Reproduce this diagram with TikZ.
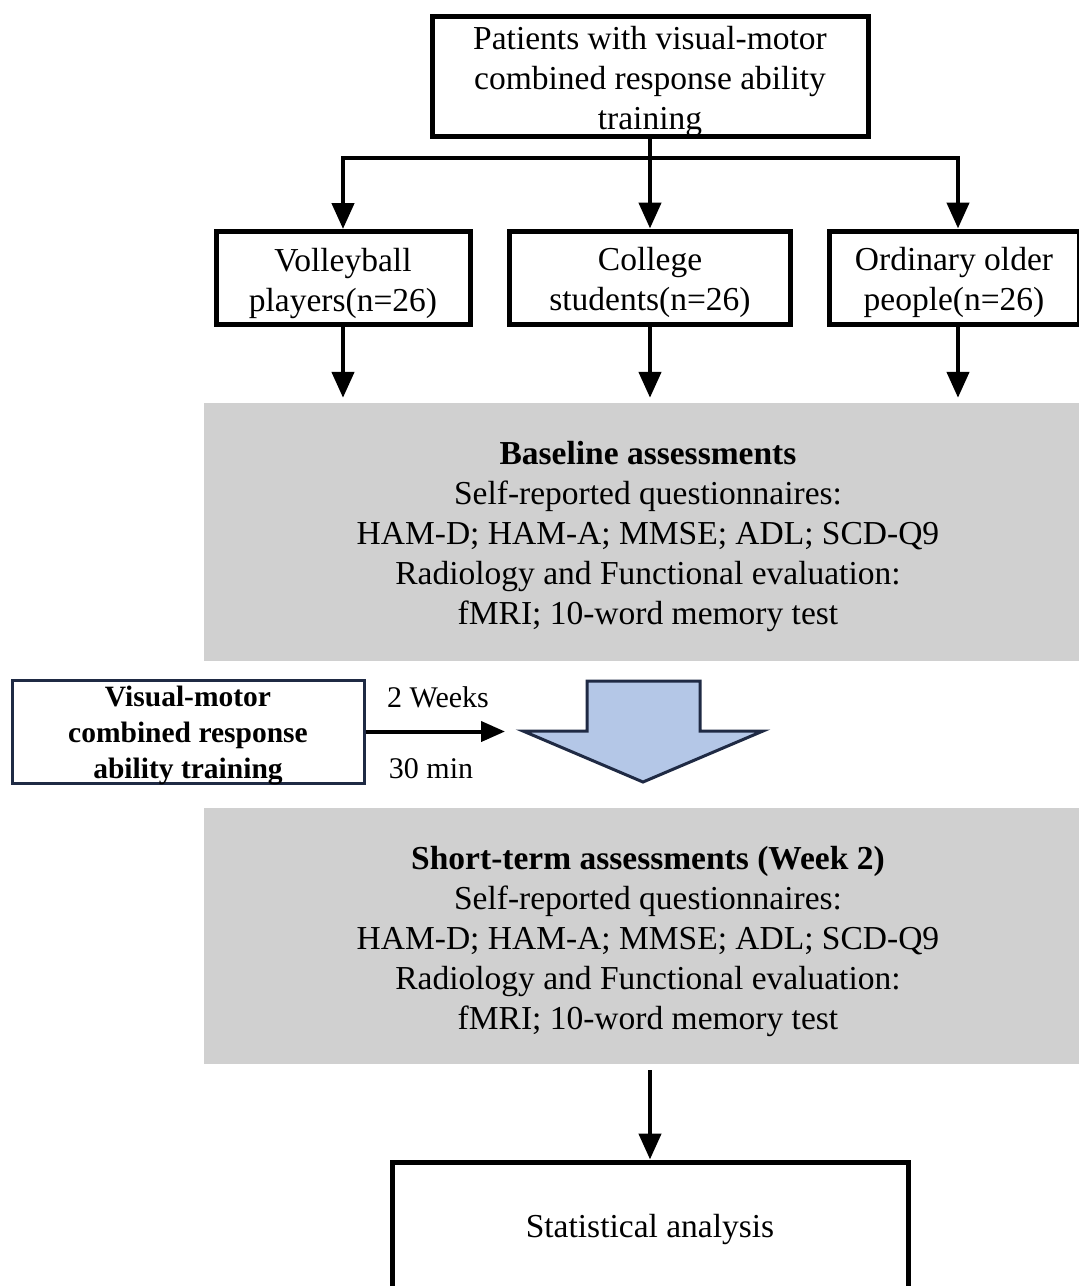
\documentclass[tikz,border=0pt]{standalone}
\usepackage{fontspec}
\setmainfont{Liberation Serif}
\usetikzlibrary{arrows.meta}
\definecolor{grayfill}{RGB}{208,208,208}
\definecolor{bluefill}{RGB}{180,199,231}
\definecolor{navy}{RGB}{31,42,68}
\begin{document}
\begin{tikzpicture}[x=1pt,y=-1pt,
  box/.style={draw=black, line width=5pt, fill=white, inner sep=0pt},
  gbox/.style={fill=grayfill, inner sep=0pt},
  lbox/.style={draw=navy, line width=3pt, fill=white, inner sep=0pt},
  txt/.style={align=center, inner sep=0pt, font=\fontsize{33.5}{40}\selectfont},
  btxt/.style={align=center, inner sep=0pt, font=\fontsize{29.5}{36}\selectfont\bfseries},
  lbl/.style={inner sep=0pt, font=\fontsize{30}{34}\selectfont},
  arr/.style={line width=4.5pt, -{Triangle[width=22pt,length=26pt]}},
  conn/.style={line width=4.5pt}]
\useasboundingbox (0,0) rectangle (1079,1286);
\clip (0,0) rectangle (1079,1286);
\fill[white] (0,0) rectangle (1079,1286);

% top box
\node[box, minimum width=436pt, minimum height=120pt] (top) at (650,76) {};
\node[txt] (topT) at ([yshift=-5pt]top.center)
  {Patients with visual-motor\\combined response ability\\training};

% group boxes
\node[box, minimum width=254pt, minimum height=93pt] (vb) at (343,278) {};
\node[txt] (vbT) at ([yshift=-5pt]vb.center) {Volleyball\\players(n=26)};
\node[box, minimum width=281pt, minimum height=93pt] (co) at (650,277.5) {};
\node[txt] (coT) at ([yshift=-5pt]co.center) {College\\students(n=26)};
\node[box, minimum width=250pt, minimum height=93pt] (od) at (954,277.5) {};
\node[txt] (odT) at ([yshift=-5pt]od.center) {Ordinary older\\people(n=26)};

\coordinate (bL) at (343,158);
\coordinate (bR) at (958,158);
\draw[conn, line cap=rect] (bL) -- (bR);
\draw[arr] (top.south) -- (co.north);
\draw[arr] (bL) -- (vb.north);
\draw[arr] (bR) -- (bR |- od.north);

% baseline gray box
\node[gbox, minimum width=888pt, minimum height=258pt] (base) at (648,532) {};
\node[txt] (baseT) at ([yshift=-4.5pt]base.center)
  {\textbf{Baseline assessments}\\Self-reported questionnaires:\\HAM-D; HAM-A; MMSE; ADL; SCD-Q9\\Radiology and Functional evaluation:\\fMRI; 10-word memory test};

\draw[arr, shorten >=5pt] (vb.south) -- (vb.south |- base.north);
\draw[arr, shorten >=5pt] (co.south) -- (co.south |- base.north);
\coordinate (oR) at (958,326);
\draw[arr, shorten >=5pt] (oR) -- (oR |- base.north);

% training box
\node[lbox, minimum width=352pt, minimum height=103pt] (train) at (188,731.5) {};
\node[btxt] (trainT) at ([yshift=-4pt]train.center)
  {Visual-motor\\combined response\\ability training};

% big block arrow
\draw[navy, line width=3pt, fill=bluefill, line join=miter]
  (587,681) -- (700,681) -- (700,731) -- (763,731) -- (643,782) -- (523,731) -- (587,731) -- cycle;
\coordinate (bigL) at (505,731.5);
\draw[line width=4pt, -{Triangle[width=20pt,length=24pt]}] (train.east) -- (bigL);
\node[lbl] (wk) at (438,697) {2 Weeks};
\node[lbl] (mn) at (431,768.5) {30 min};

% short-term gray box
\node[gbox, minimum width=888pt, minimum height=256pt] (short) at (648,936) {};
\node[txt] (shortT) at ([yshift=-5pt]short.center)
  {\textbf{Short-term assessments (Week 2)}\\Self-reported questionnaires:\\HAM-D; HAM-A; MMSE; ADL; SCD-Q9\\Radiology and Functional evaluation:\\fMRI; 10-word memory test};

% statistical analysis
\node[box, minimum width=516pt, minimum height=128pt] (stat) at (650,1226) {};
\node[txt] (statT) at ([yshift=-3pt]stat.center) {Statistical analysis};
\draw[arr, shorten <=6pt] (short.south -| stat.north) -- (stat.north);
\end{tikzpicture}
\end{document}
